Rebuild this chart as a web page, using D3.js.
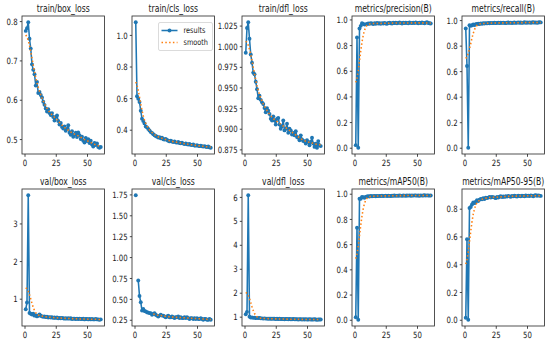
<!DOCTYPE html>
<html><head><meta charset="utf-8">
<script src="https://cdn.jsdelivr.net/npm/d3@7/dist/d3.min.js"></script>
<style>body{margin:0;background:#fff}svg{display:block}text{font-family:"DejaVu Sans",sans-serif}</style>
</head><body><svg id="c" width="550" height="344"></svg>
<script>
// ---------- data ----------
const epochs = d3.range(1, 62);

const titles = ["train/box_loss","train/cls_loss","train/dfl_loss","metrics/precision(B)","metrics/recall(B)",
                "val/box_loss","val/cls_loss","val/dfl_loss","metrics/mAP50(B)","metrics/mAP50-95(B)"];

const trainBoxLoss = [0.775,0.782,0.797,0.755,0.730,0.690,0.676,0.665,0.636,0.645,
  0.617,0.620,0.612,0.606,0.595,0.587,0.578,0.570,0.576,0.566,
  0.561,0.566,0.556,0.547,0.556,0.560,0.546,0.537,0.541,0.531,
  0.527,0.532,0.521,0.526,0.535,0.516,0.511,0.520,0.506,0.511,
  0.516,0.505,0.517,0.510,0.500,0.506,0.496,0.491,0.503,0.495,
  0.500,0.490,0.496,0.486,0.481,0.490,0.485,0.489,0.480,0.478,0.480];

const trainClsLoss = [1.080,0.612,0.596,0.575,0.520,0.470,0.455,0.440,0.420,0.415,
  0.405,0.395,0.385,0.380,0.372,0.365,0.360,0.356,0.350,0.352,
  0.346,0.350,0.340,0.338,0.341,0.335,0.330,0.326,0.331,0.325,
  0.322,0.326,0.320,0.318,0.322,0.316,0.314,0.318,0.312,0.310,
  0.313,0.308,0.306,0.310,0.304,0.303,0.306,0.300,0.299,0.302,
  0.298,0.296,0.299,0.295,0.293,0.296,0.292,0.291,0.294,0.288,0.286];

const trainDflLoss = [0.992,1.022,1.029,1.009,0.990,0.980,0.968,0.966,0.957,0.948,
  0.937,0.940,0.935,0.932,0.930,0.925,0.920,0.925,0.922,0.918,
  0.912,0.910,0.915,0.910,0.905,0.912,0.913,0.905,0.900,0.903,
  0.910,0.898,0.900,0.906,0.895,0.900,0.898,0.893,0.895,0.892,
  0.897,0.890,0.889,0.886,0.892,0.887,0.885,0.885,0.882,0.886,
  0.884,0.880,0.884,0.889,0.882,0.878,0.882,0.877,0.885,0.880,0.879];

const precision = [0.020,0.860,0.000,0.930,0.950,0.970,0.965,0.960,0.962,0.965,
  0.968,0.966,0.970,0.968,0.965,0.970,0.967,0.972,0.968,0.970,
  0.966,0.971,0.968,0.973,0.969,0.966,0.972,0.975,0.970,0.968,
  0.974,0.971,0.975,0.970,0.973,0.976,0.972,0.969,0.974,0.971,
  0.975,0.972,0.970,0.976,0.973,0.971,0.975,0.972,0.977,0.973,
  0.970,0.975,0.972,0.976,0.973,0.970,0.975,0.978,0.972,0.970,0.968];

const recall = [0.935,0.640,0.000,0.960,0.955,0.960,0.965,0.962,0.968,0.970,
  0.972,0.970,0.974,0.972,0.975,0.973,0.976,0.974,0.977,0.975,
  0.978,0.976,0.977,0.979,0.976,0.978,0.980,0.977,0.979,0.978,
  0.980,0.978,0.976,0.979,0.981,0.978,0.980,0.977,0.979,0.981,
  0.978,0.980,0.982,0.979,0.981,0.978,0.980,0.983,0.979,0.981,
  0.980,0.982,0.979,0.981,0.983,0.980,0.982,0.979,0.981,0.983,0.982];

const valBoxLoss = [0.72,0.90,3.75,0.62,0.60,0.58,0.60,0.55,0.56,0.53,
  0.55,0.58,0.55,0.53,0.52,0.53,0.51,0.52,0.50,0.51,
  0.50,0.51,0.49,0.50,0.49,0.50,0.48,0.49,0.48,0.49,
  0.48,0.47,0.48,0.47,0.48,0.47,0.48,0.46,0.47,0.47,
  0.46,0.47,0.46,0.47,0.46,0.46,0.47,0.45,0.46,0.46,
  0.45,0.46,0.45,0.46,0.45,0.45,0.46,0.45,0.45,0.44,0.45];

const valClsLoss = [1.74,NaN,0.72,0.535,0.46,0.36,0.38,0.355,0.35,0.34,
  0.335,0.33,0.33,0.31,0.32,0.33,0.31,0.30,0.29,0.30,
  0.31,0.30,0.30,0.29,0.28,0.29,0.30,0.28,0.28,0.29,
  0.28,0.27,0.28,0.28,0.29,0.27,0.28,0.27,0.27,0.28,
  0.27,0.28,0.27,0.26,0.27,0.27,0.26,0.27,0.26,0.27,
  0.26,0.26,0.27,0.26,0.25,0.26,0.26,0.25,0.25,0.26,0.25];

const valDflLoss = [1.10,1.20,6.07,1.00,0.96,0.97,0.95,0.96,0.94,0.95,
  0.94,0.95,0.93,0.93,0.92,0.93,0.92,0.92,0.91,0.92,
  0.91,0.91,0.92,0.91,0.90,0.91,0.90,0.91,0.90,0.90,
  0.90,0.89,0.90,0.90,0.89,0.90,0.89,0.89,0.90,0.89,
  0.89,0.89,0.88,0.89,0.89,0.88,0.89,0.88,0.89,0.88,
  0.88,0.89,0.88,0.88,0.88,0.89,0.88,0.87,0.88,0.88,0.88];

const mAP50 = [0.020,0.730,0.000,0.960,0.960,0.975,0.972,0.968,0.975,0.978,
  0.980,0.978,0.982,0.980,0.981,0.983,0.980,0.982,0.981,0.983,
  0.982,0.984,0.981,0.983,0.985,0.982,0.984,0.983,0.982,0.984,
  0.984,0.986,0.983,0.985,0.984,0.986,0.985,0.983,0.986,0.985,
  0.984,0.986,0.985,0.987,0.984,0.986,0.985,0.987,0.986,0.985,
  0.986,0.984,0.987,0.985,0.986,0.988,0.985,0.987,0.986,0.985,0.986];

const mAP5095 = [0.015,0.580,0.000,0.805,0.812,0.830,0.845,0.840,0.850,0.862,
  0.855,0.865,0.870,0.868,0.875,0.870,0.880,0.877,0.880,0.885,
  0.881,0.885,0.883,0.880,0.876,0.885,0.880,0.886,0.890,0.884,
  0.888,0.885,0.890,0.887,0.892,0.889,0.886,0.891,0.889,0.893,
  0.890,0.888,0.893,0.891,0.889,0.894,0.892,0.890,0.895,0.892,
  0.894,0.891,0.896,0.893,0.890,0.895,0.897,0.893,0.896,0.894,0.892];

const xTickValues = [0, 25, 50];
const yTickValues = [
  [0.5,0.6,0.7,0.8], [0.4,0.6,0.8,1.0], [0.875,0.9,0.925,0.95,0.975,1.0,1.025],
  [0,0.2,0.4,0.6,0.8,1.0], [0,0.2,0.4,0.6,0.8,1.0],
  [1,2,3], [0.25,0.5,0.75,1.0,1.25,1.5,1.75], [1,2,3,4,5,6],
  [0,0.2,0.4,0.6,0.8,1.0], [0,0.2,0.4,0.6,0.8]];
const yTickFormats = [".1f",".1f",".3f",".1f",".1f","d",".2f","d",".1f",".1f"];
const legendLabels = ["results", "smooth"];

const seriesList = [trainBoxLoss, trainClsLoss, trainDflLoss, precision, recall,
                    valBoxLoss, valClsLoss, valDflLoss, mAP50, mAP5095];

// ---------- drawing ----------
const BLUE = "#1f77b4", ORANGE = "#ff7f0e", INK = "#1a1a1a";
const SX = 0.8;            // horizontal squeeze of the original picture
const TICK_FS = 8.7, TITLE_FS = 9.6, LEG_FS = 8.2;
const LW = 1.55, MR = 1.95;
const colLeft = [22, 132, 242, 352, 462], W = 82.5;
const rowTop = [16, 189], rowBot = [154, 326];

function gaussianSmooth(a, sigma) {          // same as scipy gaussian_filter1d (reflect)
  const rad = Math.floor(4 * sigma + 0.5);
  const w = d3.range(-rad, rad + 1).map(k => Math.exp(-0.5 * k * k / (sigma * sigma)));
  const s = d3.sum(w), n = a.length;
  return a.map((_, i) => {
    let acc = 0;
    for (let k = -rad; k <= rad; k++) {
      let j = i + k;
      while (j < 0 || j >= n) j = j < 0 ? -j - 1 : 2 * n - j - 1;
      acc += w[k + rad] * a[j];
    }
    return acc / s;
  });
}
function pad(ext) { const d = (ext[1] - ext[0]) * 0.05; return [ext[0] - d, ext[1] + d]; }

const svg = d3.select("#c");
svg.append("rect").attr("width", 550).attr("height", 344).attr("fill", "#fff");

seriesList.forEach((vals, i) => {
  const r = Math.floor(i / 5), c = i % 5;
  const x0 = colLeft[c], x1 = x0 + W, y0 = rowTop[r], y1 = rowBot[r];
  const x = d3.scaleLinear().domain(pad(d3.extent(epochs))).range([x0, x1]);
  const y = d3.scaleLinear().domain(pad(d3.extent(vals.filter(v => !isNaN(v))))).range([y1, y0]);
  const g = svg.append("g");

  // y axis
  const ya = g.append("g").attr("transform", `translate(${x0},0)`)
    .call(d3.axisLeft(y).tickValues(yTickValues[i]).tickSize(2.2).tickPadding(2.2)
      .tickFormat(d3.format(yTickFormats[i])));
  ya.select(".domain").remove();
  ya.attr("font-size", TICK_FS).attr("font-family", "DejaVu Sans");
  ya.selectAll("line").attr("stroke", INK).attr("stroke-width", 0.8);
  ya.selectAll("text").attr("fill", INK).each(function () {
    const t = d3.select(this), xx = +t.attr("x");
    t.attr("x", 0).attr("dy", "0.36em").attr("transform", `translate(${xx},0) scale(${SX},1)`);
  });

  // x axis
  const xa = g.append("g").attr("transform", `translate(0,${y1})`)
    .call(d3.axisBottom(x).tickValues(xTickValues).tickSize(2.8).tickPadding(2.8).tickFormat(d3.format("d")));
  xa.select(".domain").remove();
  xa.attr("font-size", TICK_FS).attr("font-family", "DejaVu Sans");
  xa.selectAll("line").attr("stroke", INK).attr("stroke-width", 0.8);
  xa.selectAll("text").attr("fill", INK).attr("y", 12.2).attr("dy", 0)
    .attr("transform", `scale(${SX},1)`);

  // title
  g.append("text").attr("transform", `translate(${(x0 + x1) / 2},${y0 - 4}) scale(${SX},1)`)
    .attr("text-anchor", "middle").attr("font-size", TITLE_FS).attr("fill", INK).text(titles[i]);

  // results line + markers
  const pts = epochs.map((e, k) => [e, vals[k]]);
  const line = d3.line().defined(d => !isNaN(d[1])).x(d => x(d[0])).y(d => y(d[1]));
  g.append("path").attr("d", line(pts)).attr("fill", "none").attr("stroke", BLUE)
    .attr("stroke-width", LW).attr("stroke-linejoin", "round");
  g.append("g").selectAll("circle").data(pts.filter(d => !isNaN(d[1]))).join("circle")
    .attr("cx", d => x(d[0])).attr("cy", d => y(d[1])).attr("r", MR).attr("fill", BLUE);

  // smooth line
  const sm = gaussianSmooth(vals, 3);
  g.append("path").attr("d", line(epochs.map((e, k) => [e, sm[k]]))).attr("fill", "none")
    .attr("stroke", ORANGE).attr("stroke-width", LW).attr("stroke-dasharray", "1.5,2.3");

  // frame
  g.append("rect").attr("x", x0).attr("y", y0).attr("width", W).attr("height", y1 - y0)
    .attr("fill", "none").attr("stroke", "#333").attr("stroke-width", 0.85);

  // legend in second panel
  if (i === 1) {
    const lx = x1 - 56, ly = y0 + 6.5, lw = 54, lh = 28;
    const lg = g.append("g");
    lg.append("rect").attr("x", lx).attr("y", ly).attr("width", lw).attr("height", lh)
      .attr("rx", 1.5).attr("fill", "#fff").attr("fill-opacity", 0.8)
      .attr("stroke", "#cccccc").attr("stroke-width", 0.7);
    const rows = [ly + 8, ly + 20];
    lg.append("line").attr("x1", lx + 3).attr("x2", lx + 19).attr("y1", rows[0]).attr("y2", rows[0])
      .attr("stroke", BLUE).attr("stroke-width", LW);
    lg.append("circle").attr("cx", lx + 11).attr("cy", rows[0]).attr("r", MR).attr("fill", BLUE);
    lg.append("line").attr("x1", lx + 3).attr("x2", lx + 19).attr("y1", rows[1]).attr("y2", rows[1])
      .attr("stroke", ORANGE).attr("stroke-width", LW).attr("stroke-dasharray", "1.5,2.3");
    legendLabels.forEach((lab, k) => {
      lg.append("text").attr("transform", `translate(${lx + 25},${rows[k] + 2.9}) scale(${SX},1)`)
        .attr("font-size", LEG_FS).attr("fill", INK).text(lab);
    });
  }
});
</script>
</body></html>
